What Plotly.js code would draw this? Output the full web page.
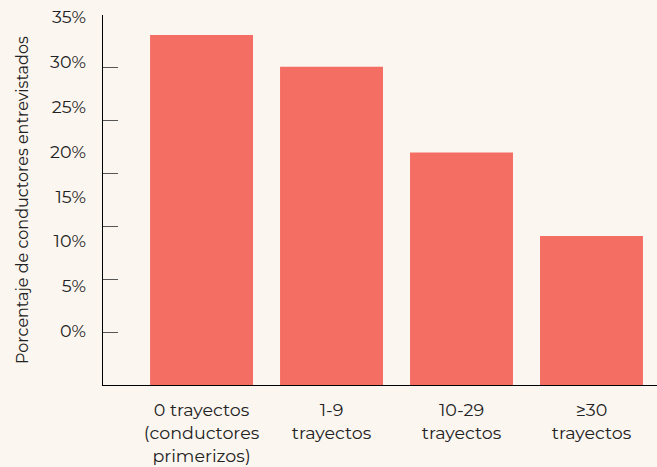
<!DOCTYPE html>
<html>
<head>
<meta charset="utf-8">
<script src="https://cdn.plot.ly/plotly-3.0.1.min.js"></script>
<style>html,body{margin:0;padding:0;background:#fbf6f0;}</style>
</head>
<body>
<div id="chart" style="width:657px;height:467px;"></div>
<script>
const categories = ["0 trayectos<br>(conductores<br>primerizos)", "1-9<br>trayectos", "10-29<br>trayectos", "≥30<br>trayectos"];
const percentages = [33.1, 30.1, 22.0, 14.1];
const tickValues = [0, 5, 10, 15, 20, 25, 30, 35];
const tickLabels = ["0%", "5%", "10%", "15%", "20%", "25%", "30%", "35%"];

const FONT = "Montserrat, Inter, 'Noto Sans', sans-serif";
const TEXT = "#222222";

const data = [{
  type: "bar",
  x: [0, 1, 2, 3],
  y: percentages,
  marker: {color: "#f56e64"},
  hoverinfo: "skip"
}, {
  type: "scatter",
  x: [0],
  y: [0],
  yaxis: "y2",
  mode: "markers",
  marker: {opacity: 0},
  hoverinfo: "skip",
  showlegend: false
}];

const layout = {
  width: 657,
  height: 467,
  margin: {l: 103, r: 0, t: 15, b: 82},
  paper_bgcolor: "#fbf6f0",
  plot_bgcolor: "#fbf6f0",
  showlegend: false,
  bargap: 0.208,
  font: {family: FONT, color: TEXT, size: 17},
  xaxis: {
    range: [-0.758, 3.504],
    tickvals: [0, 1, 2, 3],
    ticktext: categories,
    ticks: "",
    showline: true,
    linecolor: "#000000",
    linewidth: 1,
    showgrid: false,
    zeroline: false,
    tickfont: {family: FONT, size: 17.5, color: TEXT},
    ticklabelstandoff: 9
  },
  yaxis: {
    range: [0, 35],
    tickvals: tickValues,
    showticklabels: false,
    ticks: "inside",
    ticklen: 15,
    tickcolor: "#555555",
    tickwidth: 1,
    showline: true,
    linecolor: "#000000",
    linewidth: 1,
    showgrid: false,
    zeroline: false
  },
  yaxis2: {
    overlaying: "y",
    side: "left",
    anchor: "x",
    range: [-6.02, 35.22],
    tickvals: tickValues,
    ticktext: tickLabels,
    ticks: "",
    showline: false,
    showgrid: false,
    zeroline: false,
    tickfont: {family: FONT, size: 17.5, color: TEXT},
    ticklabelstandoff: 16
  },
  annotations: [{
    text: "Porcentaje de conductores entrevistados",
    textangle: -90,
    xref: "paper",
    yref: "paper",
    x: (22 - 103) / 554,
    y: 0.5,
    xanchor: "center",
    yanchor: "middle",
    showarrow: false,
    font: {family: FONT, size: 16, color: TEXT}
  }]
};

Plotly.newPlot("chart", data, layout, {displayModeBar: false, staticPlot: true});
</script>
</body>
</html>
